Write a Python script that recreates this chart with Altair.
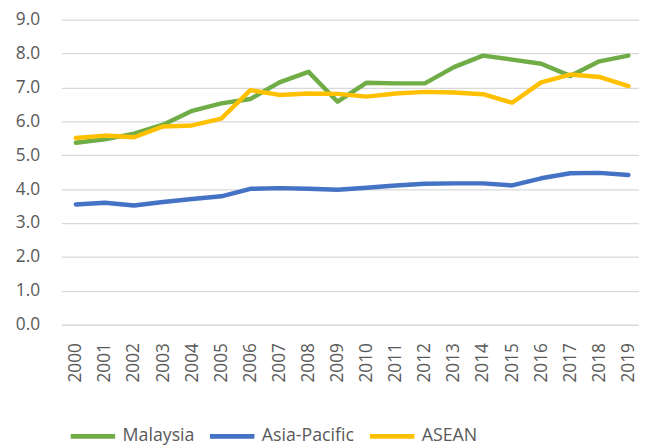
import altair as alt
import pandas as pd

years = list(range(2000, 2020))
malaysia = [5.37, 5.47, 5.64, 5.90, 6.31, 6.53, 6.66, 7.15, 7.46, 6.58,
            7.14, 7.12, 7.12, 7.60, 7.94, 7.82, 7.70, 7.34, 7.77, 7.94]
asia_pacific = [3.55, 3.60, 3.52, 3.62, 3.71, 3.79, 4.01, 4.03, 4.01, 3.98,
                4.04, 4.11, 4.16, 4.17, 4.17, 4.11, 4.32, 4.47, 4.48, 4.42]
asean = [5.51, 5.58, 5.53, 5.85, 5.88, 6.08, 6.92, 6.78, 6.82, 6.81,
         6.73, 6.82, 6.87, 6.85, 6.80, 6.55, 7.15, 7.38, 7.31, 7.04]

series_names = ["Malaysia", "Asia-Pacific", "ASEAN"]
series_colors = ["#70AD47", "#4472C4", "#FFC000"]
y_ticks = [0, 1, 2, 3, 4, 5, 6, 7, 8, 9]

rows = []
for name, vals in zip(series_names, [malaysia, asia_pacific, asean]):
    for yr, v in zip(years, vals):
        rows.append({"year": yr, "value": v, "series": name})
df = pd.DataFrame(rows)

FONT = "Open Sans"
LABEL_COLOR = "#595959"

chart = alt.Chart(df).mark_line(strokeWidth=4.5, strokeCap="round", strokeJoin="round").encode(
    x=alt.X("year:Q",
            scale=alt.Scale(domain=[1999.5, 2019.5], range=[0, 589], nice=False, zero=False),
            axis=alt.Axis(values=years, format="d", labelAngle=270, labelAlign="right",
                          labelBaseline="middle", labelPadding=18, ticks=False, tickSize=0,
                          domain=False, grid=False, title=None, labelFont=FONT,
                          labelFontSize=17.5, labelColor=LABEL_COLOR, labelOverlap=False)),
    y=alt.Y("value:Q",
            scale=alt.Scale(domain=[0, 9], nice=False),
            axis=alt.Axis(values=y_ticks, format=".1f", ticks=False, tickSize=0, domain=False,
                          grid=True, gridColor="#D9D9D9", gridWidth=1.3, title=None,
                          labelPadding=22, labelFont=FONT, labelFontSize=17.5,
                          labelColor=LABEL_COLOR)),
    color=alt.Color("series:N",
                    scale=alt.Scale(domain=series_names, range=series_colors),
                    legend=alt.Legend(title=None, orient="none", direction="horizontal",
                                      legendX=7, legendY=397, symbolType="stroke",
                                      symbolSize=2025, symbolStrokeWidth=5,
                                      labelFont=FONT, labelFontSize=18,
                                      labelColor=LABEL_COLOR, columnPadding=5,
                                      labelOffset=5)),
    detail="series:N",
).properties(
    width=585, height=309, autosize="none",
    padding={"left": 54, "top": 9, "right": 0, "bottom": 122},
).configure_view(stroke=None)

chart.save("out.html", embed_options={"renderer": "svg", "actions": False})
